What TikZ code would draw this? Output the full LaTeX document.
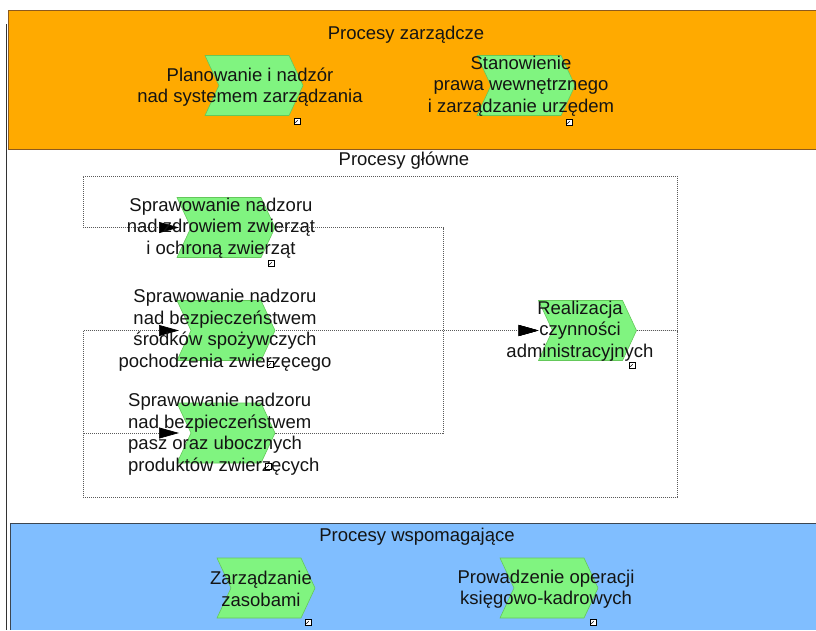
\documentclass[tikz,border=0pt]{standalone}
\usepackage{fontspec}
\setmainfont{Liberation Sans}
\usetikzlibrary{shapes.symbols,arrows.meta,calc}
\pgfdeclarelayer{background}
\pgfdeclarelayer{paper}
\pgfsetlayers{paper,background,main}
\definecolor{bandorange}{RGB}{255,170,0}
\definecolor{bandorangeline}{RGB}{140,90,30}
\definecolor{bandblue}{RGB}{128,190,255}
\definecolor{bandblueline}{RGB}{60,70,80}
\definecolor{chevfill}{RGB}{128,244,128}
\definecolor{chevline}{RGB}{100,200,90}
\definecolor{connline}{RGB}{90,90,90}
\begin{document}
\begin{tikzpicture}[x=1pt,y=-1pt,
  chev/.style={signal, signal from=west, signal to=east, signal pointer angle=130,
    minimum width=98pt, minimum height=60pt, inner sep=0pt, outer sep=0pt,
    fill=chevfill, draw=chevline, line width=0.6pt},
  lbl/.style={font=\fontsize{18.5}{21.5}\selectfont, align=center, inner sep=0pt, text=black!92},
  ttl/.style={font=\fontsize{18.5}{21.5}\selectfont, inner sep=0pt, text=black!92},
  conn/.style={draw=connline, line width=0.7pt, dash pattern=on 1pt off 1pt},
  arr/.style={-{Triangle[length=20pt,width=11pt,color=black,fill=black]}},
  arrback/.style={{Triangle[length=20pt,width=11pt,color=black,fill=black]}-},
  icon/.style={draw=black, fill=white, line width=0.5pt, minimum size=6pt, inner sep=0pt,
    path picture={\draw[line width=0.6pt] ([shift={(1.3pt,1.3pt)}]path picture bounding box.south west) -- ([shift={(-1.3pt,-1.3pt)}]path picture bounding box.north east);
      \fill ([shift={(-1pt,-1pt)}]path picture bounding box.north east) -- ++(-2.4pt,0pt) -- ++(2.4pt,-2.4pt) -- cycle;}}]
\useasboundingbox (0,0) rectangle (816,630);
\begin{pgfonlayer}{paper}
\fill[white] (0,0) rectangle (816,630);
\end{pgfonlayer}

% bands
\fill[bandorange] (8,10) rectangle (816,149);
\draw[bandorangeline, line width=1pt] (816,10) -- (8,10) -- (8,149) -- (816,149);
\fill[bandblue] (10,523) rectangle (816,630);
\draw[bandblueline, line width=1pt] (816,523) -- (10,523) -- (10,630);
\draw[black!80, line width=1pt] (6.5,24) -- (6.5,630);

% titles
\node[ttl] (tz) at (406,35) {Procesy zarządcze};
\node[ttl] (tg) at (404,161) {Procesy główne};
\node[ttl] (tw) at (417,537) {Procesy wspomagające};

% chevrons
\node[chev] (cA) at (254,85.5) {};
\node[chev] (cB) at (526,85.5) {};
\node[chev] (c1) at (226,227.5) {};
\node[chev] (c2) at (226,330.5) {};
\node[chev] (c3) at (226,433) {};
\node[chev] (cR) at (587.5,330.5) {};
\node[chev] (cD) at (266,588) {};
\node[chev] (cE) at (549,588) {};

% connector end points
\coordinate (c1in) at ($(c1.center)+(-47,0)$);
\coordinate (c2in) at ($(c2.center)+(-47,0)$);
\coordinate (c3in) at ($(c3.center)+(-47,0)$);
\coordinate (cRin) at ($(cR.center)+(-49,0)$);
\coordinate (rbend) at (677,330.5);
\coordinate (mbend) at (443,330.5);

\begin{pgfonlayer}{background}
% feedback: Realizacja -> the three supervision processes
\draw[conn,arr] (cR.east) -- (rbend) |- (83,176) |- (c1in);
\draw[conn,arr] (cR.east) -- (rbend) |- (83,497) |- (c2in);
\draw[conn,arr] (cR.east) -- (rbend) |- (83,497) |- (c3in);
% supervision processes -> Realizacja (drawn from the shared end so the dots coincide)
\draw[conn,arrback] (cRin) -- (mbend) |- (c1.east);
\draw[conn,arrback] (cRin) -- (c2.east);
\draw[conn,arrback] (cRin) -- (mbend) |- (c3.east);
\end{pgfonlayer}

% labels
\node[lbl] (tA) at (250,87) {Planowanie i nadzór\\nad systemem zarządzania};
\node[lbl] (tB) at (521,86) {Stanowienie\\prawa wewnętrznego\\i zarządzanie urzędem};
\node[lbl] (t1) at (221,228) {Sprawowanie nadzoru\\nad zdrowiem zwierząt\\i ochroną zwierząt};
\node[lbl] (t2) at (225,330) {Sprawowanie nadzoru\\nad bezpieczeństwem\\środków spożywczych\\pochodzenia zwierzęcego};
\node[lbl, align=left, anchor=west] (t3) at (128,434) {Sprawowanie nadzoru\\nad bezpieczeństwem\\pasz oraz ubocznych\\produktów zwierzęcych};
\node[lbl] (tR) at (580,331) {Realizacja\\czynności\\administracyjnych};
\node[lbl] (tD) at (261,589) {Zarządzanie\\zasobami};
\node[lbl] (tE) at (546,589) {Prowadzenie operacji\\księgowo-kadrowych};

% link icons
\node[icon] (iA) at (297,121) {};
\node[icon] (iB) at (569,122) {};
\node[icon] (i1) at (271,263) {};
\node[icon] (i2) at (270,364) {};
\node[icon] (i3) at (268,466) {};
\node[icon] (iR) at (632,365) {};
\node[icon] (iD) at (308,622) {};
\node[icon] (iE) at (593,622) {};
\end{tikzpicture}
\end{document}
